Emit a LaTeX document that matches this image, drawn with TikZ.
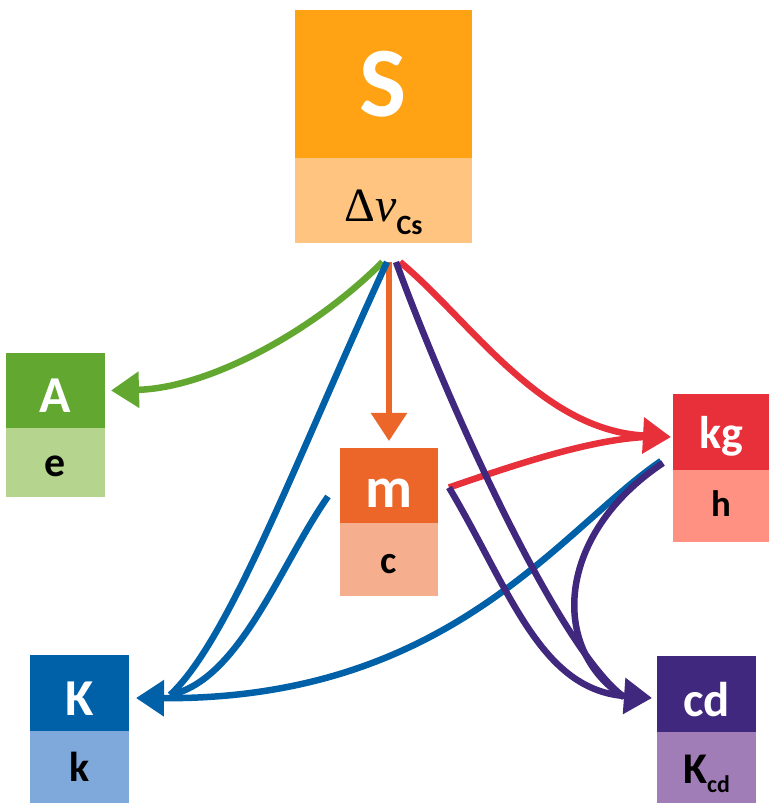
\documentclass[tikz,border=0pt]{standalone}
\usepackage{fontspec}
\setmainfont{Carlito}
\newfontfamily\grk{Liberation Serif}
\usetikzlibrary{arrows.meta,positioning}

\definecolor{cS}{HTML}{FFA214}
\definecolor{cSl}{HTML}{FFC580}
\definecolor{cA}{HTML}{62A830}
\definecolor{cAl}{HTML}{B5D48E}
\definecolor{cm}{HTML}{EC662A}
\definecolor{cml}{HTML}{F5AF8E}
\definecolor{ckg}{HTML}{E8303A}
\definecolor{ckgl}{HTML}{FF9182}
\definecolor{cK}{HTML}{0060A8}
\definecolor{cKl}{HTML}{7EA9DA}
\definecolor{ccd}{HTML}{40287F}
\definecolor{ccdl}{HTML}{A07DB7}

\newcommand\fsz[1]{\fontsize{#1}{#1}\selectfont}

\tikzset{
  topbox/.style={fill=#1, text=white, font=\bfseries, minimum width=99bp, minimum height=75bp,
    text height=45bp, text depth=0pt, inner sep=0pt, outer sep=0pt},
  lowbox/.style={fill=#1, text=black, font=\bfseries, minimum width=99bp, minimum height=72bp,
    text height=29bp, text depth=0pt, inner sep=0pt, outer sep=0pt},
  link/.style={draw=#1, line width=6.5bp},
  headed/.style={-{Triangle[length=28bp,width=35bp]}}
}

\begin{document}
\begin{tikzpicture}[x=1bp,y=1bp]
  \useasboundingbox (0,0) rectangle (769,808);
  % boxes
  \node[topbox=cS, minimum width=177bp, minimum height=148bp, text height=66bp] (S) at (383.5,724) {\fsz{100}S};
  \node[lowbox=cSl, minimum width=177bp, minimum height=85bp, text height=43bp, below=0pt of S] (Sv)
    {{\grk\mdseries\fsz{48}Δ\itshape ν}\raisebox{-13bp}{\fsz{28}Cs}};
  \node[topbox=cA] (A) at (55.5,417.5) {\fsz{52}A};
  \node[lowbox=cAl, minimum height=69bp, below=0pt of A] (Ae) {\fsz{42}e};
  \node[topbox=cm, minimum width=98bp] (m) at (389,322.5) {\fsz{58}m};
  \node[lowbox=cml, minimum width=98bp, minimum height=73bp, below=0pt of m] (mc) {\fsz{39}c};
  \node[topbox=ckg, minimum width=96bp, minimum height=76bp, text height=34bp] (kg) at (721,376) {\fsz{46}kg};
  \node[lowbox=ckgl, minimum width=96bp, text height=22bp, below=0pt of kg] (kgh) {\fsz{37}h};
  \node[topbox=cK, minimum height=76bp] (K) at (79.5,115) {\fsz{52}K};
  \node[lowbox=cKl, below=0pt of K] (Kk) {\fsz{42}k};
  \node[topbox=ccd, minimum height=76bp, text height=46bp] (cd) at (706.5,114) {\fsz{49}cd};
  \node[lowbox=ccdl, minimum height=71bp, text height=31bp, below=0pt of cd] (cdK)
    {\fsz{44}K\raisebox{-9bp}{\fsz{24}cd}};
  % ends of the links
  \coordinate (fan) at ([yshift=-19bp]Sv.south);
  \coordinate (Atip) at ([xshift=6bp]A.east);
  \coordinate (mout) at ([xshift=11bp,yshift=-2bp]m.east);
  \coordinate (mleft) at ([xshift=-12bp,yshift=-11bp]m.west);
  \coordinate (kgout) at ([xshift=-12bp,yshift=-29bp]kg.west);
  \coordinate (kgtip) at ([xshift=-2bp,yshift=-5bp]kg.west);
  \coordinate (kgin) at ([xshift=-28bp,yshift=-5bp]kg.west);
  \coordinate (Ktip) at ([xshift=7bp,yshift=-5bp]K.east);
  \coordinate (Kin) at ([xshift=41bp,yshift=-2bp]K.east);
  \coordinate (cdtip) at ([xshift=-5bp,yshift=-4bp]cd.west);
  \coordinate (cdin) at ([xshift=-33bp,yshift=-3bp]cd.west);
  % S -> A
  \draw[link=cA, headed] ([xshift=-1bp]fan) .. controls (315,478) and (210,420) .. (Atip);
  % S -> m
  \draw[link=cm, line width=5.5bp, headed] (fan -| m.north) -- ([yshift=7bp]m.north);
  % into K
  \draw[link=cK] ([xshift=3.5bp]fan) .. controls (300,358) and (230,168) .. (Kin);
  \draw[link=cK] (mleft) .. controls (280,243) and (240,128) .. (Kin);
  \draw[link=cK, headed] (kgout) .. controls (560,278) and (450,108) .. (Ktip);
  % into kg
  \draw[link=ckg, headed] ([xshift=16.5bp]fan) .. controls (470,488) and (540,378) .. (kgtip);
  \draw[link=ckg] (mout) .. controls (520,345) and (590,368) .. (kgin);
  % into cd
  \draw[link=ccd] ([xshift=12.5bp]fan) .. controls (450,398) and (560,158) .. (cdin);
  \draw[link=ccd, headed] (mout) .. controls (510,218) and (540,118) .. (cdtip);
  \draw[link=ccd] ([xshift=-10bp,yshift=-31bp]kg.west) .. controls (555,273) and (550,158) .. (cdin);
\end{tikzpicture}
\end{document}
